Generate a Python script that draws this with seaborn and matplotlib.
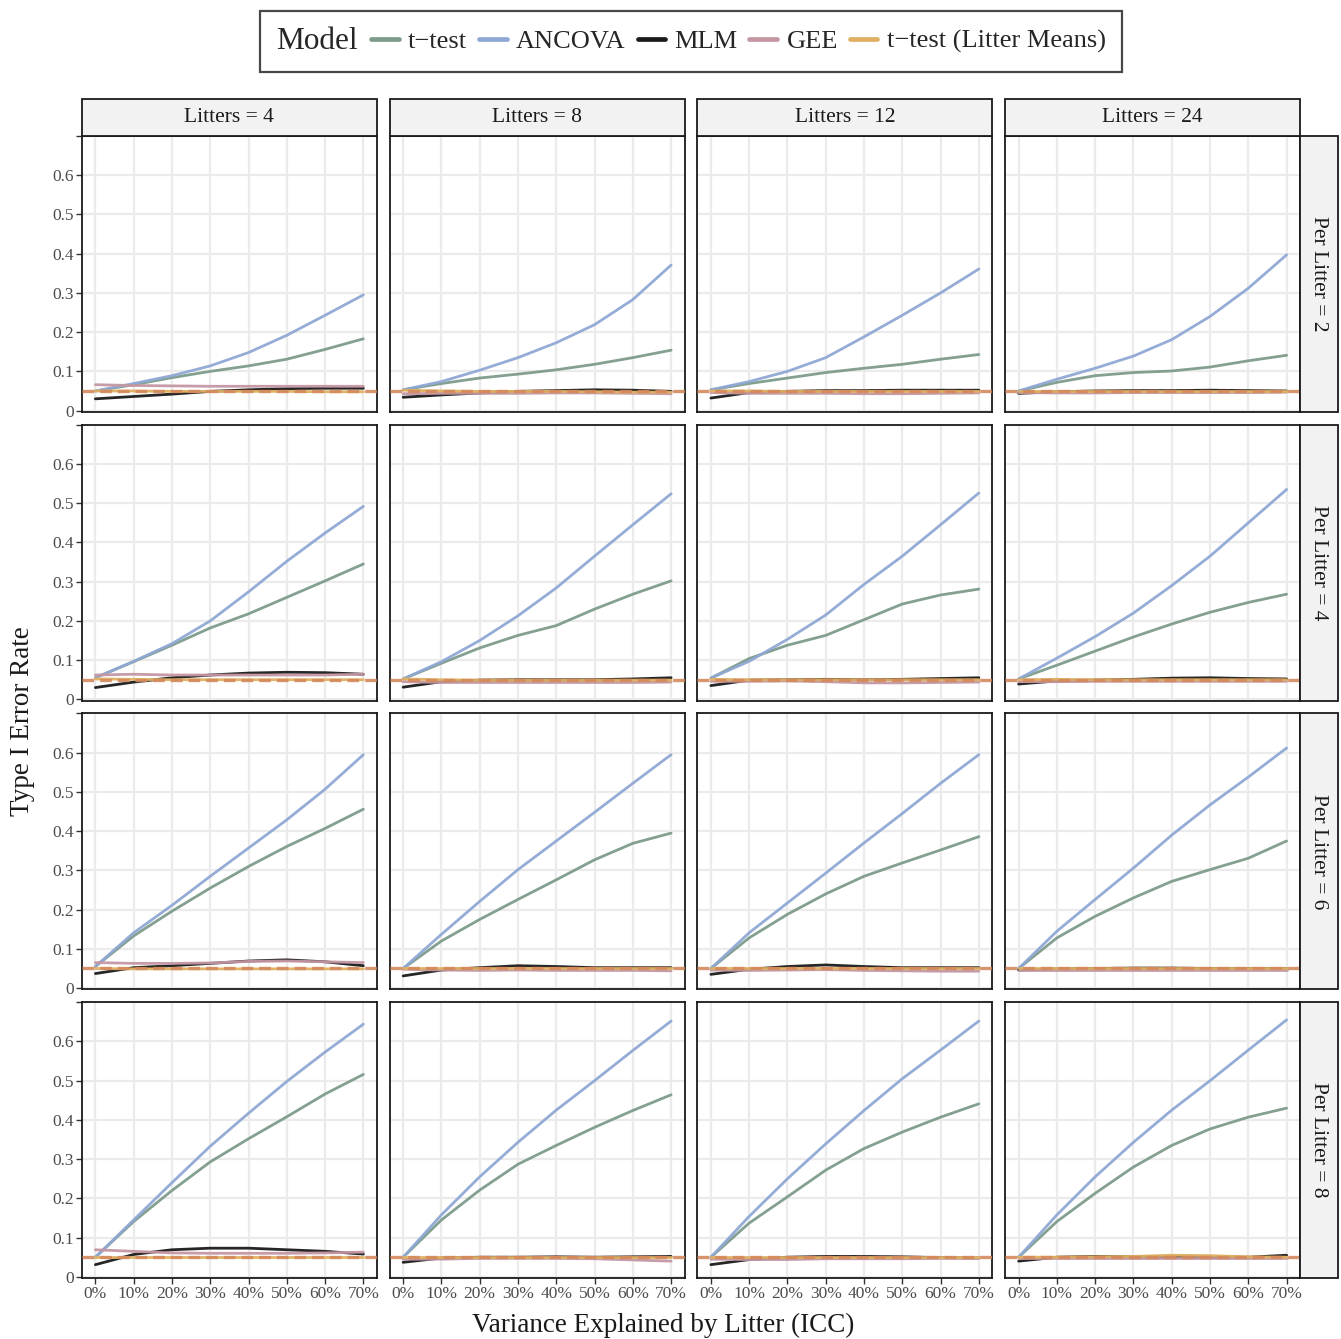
import numpy as np
import pandas as pd
import matplotlib
matplotlib.use("Agg")
import matplotlib.pyplot as plt
import seaborn as sns
from matplotlib.lines import Line2D
from matplotlib.patches import Rectangle
from matplotlib.offsetbox import HPacker

# ---------------- data ----------------
icc = [0.0, 0.1, 0.2, 0.3, 0.4, 0.5, 0.6, 0.7]
litters = [4, 8, 12, 24]
per_litter = [2, 4, 6, 8]
models = ["t\u2212test", "ANCOVA", "MLM", "GEE", "t\u2212test (Litter Means)"]
x_tick_labels = ["0%", "10%", "20%", "30%", "40%", "50%", "60%", "70%"]
y_ticks = [0.0, 0.1, 0.2, 0.3, 0.4, 0.5, 0.6, 0.7]
y_tick_labels = ["0", "0.1", "0.2", "0.3", "0.4", "0.5", "0.6", ""]

# Per Litter = 2 (columns: Litters = 4, 8, 12, 24)
ttest_p2 = [[0.050, 0.066, 0.084, 0.100, 0.114, 0.131, 0.156, 0.183],
            [0.053, 0.069, 0.083, 0.093, 0.104, 0.118, 0.135, 0.154],
            [0.053, 0.069, 0.083, 0.097, 0.108, 0.118, 0.131, 0.143],
            [0.050, 0.072, 0.089, 0.097, 0.101, 0.111, 0.127, 0.141]]
ancova_p2 = [[0.050, 0.069, 0.089, 0.114, 0.148, 0.192, 0.243, 0.295],
             [0.053, 0.074, 0.103, 0.135, 0.173, 0.219, 0.283, 0.371],
             [0.053, 0.074, 0.100, 0.135, 0.188, 0.243, 0.300, 0.361],
             [0.050, 0.080, 0.108, 0.139, 0.181, 0.240, 0.312, 0.397]]
mlm_p2 = [[0.030, 0.036, 0.042, 0.049, 0.053, 0.056, 0.057, 0.057],
          [0.034, 0.040, 0.045, 0.049, 0.051, 0.053, 0.052, 0.049],
          [0.032, 0.046, 0.049, 0.051, 0.051, 0.052, 0.052, 0.052],
          [0.044, 0.048, 0.050, 0.051, 0.051, 0.052, 0.051, 0.050]]
gee_p2 = [[0.066, 0.064, 0.063, 0.062, 0.062, 0.062, 0.062, 0.062],
          [0.043, 0.044, 0.044, 0.044, 0.045, 0.045, 0.044, 0.043],
          [0.046, 0.044, 0.044, 0.044, 0.043, 0.043, 0.044, 0.045],
          [0.046, 0.045, 0.045, 0.046, 0.046, 0.046, 0.046, 0.047]]
litter_p2 = [[0.050, 0.050, 0.049, 0.049, 0.049, 0.049, 0.048, 0.048],
             [0.052, 0.050, 0.049, 0.049, 0.049, 0.048, 0.047, 0.047],
             [0.050, 0.050, 0.049, 0.049, 0.049, 0.049, 0.049, 0.049],
             [0.050, 0.050, 0.050, 0.050, 0.050, 0.050, 0.050, 0.050]]

# Per Litter = 4
ttest_p4 = [[0.055, 0.096, 0.138, 0.182, 0.218, 0.260, 0.302, 0.345],
            [0.052, 0.092, 0.131, 0.163, 0.188, 0.230, 0.268, 0.302],
            [0.054, 0.104, 0.138, 0.163, 0.203, 0.243, 0.266, 0.281],
            [0.052, 0.087, 0.123, 0.159, 0.192, 0.222, 0.247, 0.268]]
ancova_p4 = [[0.055, 0.097, 0.142, 0.200, 0.274, 0.352, 0.424, 0.492],
             [0.052, 0.096, 0.150, 0.213, 0.284, 0.365, 0.445, 0.524],
             [0.054, 0.097, 0.153, 0.215, 0.293, 0.365, 0.445, 0.526],
             [0.052, 0.105, 0.160, 0.220, 0.290, 0.365, 0.450, 0.535]]
mlm_p4 = [[0.030, 0.044, 0.055, 0.062, 0.067, 0.069, 0.068, 0.064],
          [0.031, 0.045, 0.049, 0.050, 0.050, 0.050, 0.052, 0.055],
          [0.035, 0.049, 0.050, 0.051, 0.050, 0.051, 0.053, 0.055],
          [0.039, 0.047, 0.049, 0.051, 0.054, 0.055, 0.053, 0.052]]
gee_p4 = [[0.062, 0.064, 0.062, 0.062, 0.062, 0.062, 0.062, 0.064],
          [0.045, 0.043, 0.043, 0.043, 0.043, 0.043, 0.043, 0.044],
          [0.046, 0.046, 0.047, 0.045, 0.042, 0.042, 0.043, 0.044],
          [0.045, 0.045, 0.046, 0.046, 0.046, 0.046, 0.046, 0.046]]
litter_p4 = [[0.052, 0.051, 0.050, 0.050, 0.050, 0.050, 0.050, 0.050],
             [0.052, 0.050, 0.049, 0.049, 0.049, 0.049, 0.049, 0.049],
             [0.051, 0.050, 0.050, 0.050, 0.050, 0.050, 0.050, 0.050],
             [0.050, 0.051, 0.050, 0.050, 0.050, 0.050, 0.050, 0.050]]

# Per Litter = 6
ttest_p6 = [[0.055, 0.133, 0.196, 0.255, 0.310, 0.361, 0.407, 0.456],
            [0.050, 0.120, 0.175, 0.226, 0.276, 0.327, 0.369, 0.395],
            [0.050, 0.128, 0.188, 0.240, 0.285, 0.319, 0.352, 0.386],
            [0.050, 0.128, 0.183, 0.230, 0.272, 0.302, 0.331, 0.375]]
ancova_p6 = [[0.055, 0.141, 0.211, 0.285, 0.357, 0.429, 0.507, 0.595],
             [0.050, 0.137, 0.221, 0.302, 0.375, 0.448, 0.522, 0.595],
             [0.050, 0.141, 0.217, 0.293, 0.370, 0.445, 0.522, 0.595],
             [0.050, 0.145, 0.226, 0.306, 0.390, 0.467, 0.538, 0.612]]
mlm_p6 = [[0.037, 0.052, 0.057, 0.063, 0.069, 0.072, 0.067, 0.057],
          [0.031, 0.046, 0.052, 0.057, 0.055, 0.052, 0.052, 0.052],
          [0.035, 0.048, 0.055, 0.059, 0.055, 0.052, 0.052, 0.052],
          [0.046, 0.049, 0.050, 0.051, 0.051, 0.050, 0.050, 0.050]]
gee_p6 = [[0.065, 0.063, 0.063, 0.064, 0.068, 0.069, 0.067, 0.065],
          [0.048, 0.046, 0.045, 0.046, 0.045, 0.045, 0.045, 0.044],
          [0.046, 0.045, 0.046, 0.047, 0.045, 0.044, 0.043, 0.043],
          [0.046, 0.046, 0.046, 0.046, 0.046, 0.046, 0.046, 0.046]]
litter_p6 = [[0.050, 0.049, 0.049, 0.049, 0.049, 0.049, 0.049, 0.049],
             [0.050, 0.050, 0.050, 0.050, 0.050, 0.050, 0.050, 0.050],
             [0.050, 0.050, 0.050, 0.050, 0.050, 0.050, 0.050, 0.050],
             [0.050, 0.050, 0.050, 0.050, 0.050, 0.050, 0.050, 0.050]]

# Per Litter = 8
ttest_p8 = [[0.050, 0.141, 0.220, 0.293, 0.352, 0.408, 0.466, 0.516],
            [0.050, 0.145, 0.221, 0.287, 0.335, 0.381, 0.424, 0.464],
            [0.050, 0.137, 0.204, 0.272, 0.327, 0.369, 0.407, 0.441],
            [0.050, 0.141, 0.213, 0.280, 0.335, 0.377, 0.407, 0.430]]
ancova_p8 = [[0.050, 0.145, 0.240, 0.333, 0.417, 0.498, 0.573, 0.644],
             [0.050, 0.158, 0.255, 0.343, 0.425, 0.500, 0.577, 0.652],
             [0.050, 0.154, 0.250, 0.339, 0.424, 0.505, 0.578, 0.652],
             [0.050, 0.158, 0.255, 0.343, 0.425, 0.500, 0.578, 0.655]]
mlm_p8 = [[0.031, 0.057, 0.069, 0.073, 0.073, 0.069, 0.065, 0.058],
          [0.037, 0.048, 0.050, 0.050, 0.051, 0.050, 0.051, 0.052],
          [0.031, 0.044, 0.050, 0.052, 0.052, 0.051, 0.049, 0.048],
          [0.040, 0.050, 0.052, 0.051, 0.051, 0.050, 0.050, 0.055]]
gee_p8 = [[0.069, 0.065, 0.061, 0.060, 0.060, 0.060, 0.061, 0.063],
          [0.045, 0.045, 0.047, 0.047, 0.047, 0.046, 0.043, 0.040],
          [0.045, 0.044, 0.044, 0.046, 0.046, 0.046, 0.047, 0.047],
          [0.047, 0.047, 0.047, 0.047, 0.047, 0.047, 0.047, 0.047]]
litter_p8 = [[0.050, 0.050, 0.050, 0.050, 0.050, 0.050, 0.050, 0.050],
             [0.050, 0.050, 0.050, 0.050, 0.050, 0.050, 0.050, 0.050],
             [0.050, 0.050, 0.050, 0.050, 0.050, 0.050, 0.050, 0.050],
             [0.050, 0.050, 0.051, 0.052, 0.055, 0.054, 0.051, 0.050]]

alpha_level = 0.05

rows_data = [
    [ttest_p2, ancova_p2, mlm_p2, gee_p2, litter_p2],
    [ttest_p4, ancova_p4, mlm_p4, gee_p4, litter_p4],
    [ttest_p6, ancova_p6, mlm_p6, gee_p6, litter_p6],
    [ttest_p8, ancova_p8, mlm_p8, gee_p8, litter_p8],
]

# ---------------- style ----------------
palette = {
    models[0]: "#7D9B8A",
    models[1]: "#8FA8D4",
    models[2]: "#1A1A1A",
    models[3]: "#C497A3",
    models[4]: "#E0B060",
}
ref_color = "#D4895C"

sns.set_theme(style="white")
plt.rcParams["font.family"] = ["Liberation Serif", "DejaVu Serif"]
plt.rcParams["axes.unicode_minus"] = True

W, H = 1341, 1339
fig, axes = plt.subplots(4, 4, figsize=(W / 100, H / 100), dpi=100, sharex=True, sharey=True)
left, right, top, bottom = 82 / W, 1300 / W, 1 - 136 / H, 1 - 1278 / H
fig.subplots_adjust(left=left, right=right, top=top, bottom=bottom, wspace=0.044, hspace=0.047)

for r in range(4):
    for c in range(4):
        ax = axes[r, c]
        recs = []
        for m, series in zip(models, rows_data[r]):
            for xv, yv in zip(icc, series[c]):
                recs.append({"ICC": xv, "rate": yv, "Model": m})
        df = pd.DataFrame(recs)
        ax.set_facecolor("white")
        ax.grid(True, color="#EBEBEB", linewidth=1.6, zorder=0)
        ax.set_axisbelow(True)
        sns.lineplot(data=df, x="ICC", y="rate", hue="Model", hue_order=models,
                     palette=palette, linewidth=2.0, legend=False, ax=ax,
                     estimator=None, sort=True)
        for ln in ax.get_lines():
            ln.set_alpha(0.95)
            ln.set_solid_capstyle("round")
            ln.set_solid_joinstyle("round")
        ax.axhline(alpha_level, color=ref_color, linewidth=2.4,
                   linestyle=(0, (3.5, 1.8)), zorder=5, alpha=0.9)
        ax.set_xlim(-0.035, 0.735)
        ax.set_ylim(-0.003, 0.70)
        ax.set_xticks(icc)
        ax.set_xticklabels(x_tick_labels)
        ax.set_yticks(y_ticks)
        ax.set_yticklabels(y_tick_labels)
        ax.set_xlabel("")
        ax.set_ylabel("")
        for s in ax.spines.values():
            s.set_visible(True)
            s.set_color("#1A1A1A")
            s.set_linewidth(1.3)
        ax.tick_params(axis="both", which="major", direction="out", length=4,
                       width=1.0, color="#333333", labelsize=12.5,
                       labelcolor="#4D4D4D", pad=2,
                       left=(c == 0), bottom=(r == 3))
        # strips
        if r == 0:
            h = 37 / 276
            ax.add_patch(Rectangle((0, 1), 1, h, transform=ax.transAxes,
                                   facecolor="#F2F2F3", edgecolor="#1A1A1A",
                                   linewidth=1.3, clip_on=False, zorder=10))
            ax.text(0.5, 1 + h / 2, f"Litters = {litters[c]}", transform=ax.transAxes,
                    ha="center", va="center", fontsize=15.5, color="#1A1A1A", zorder=11)
        if c == 3:
            w = 38 / 295
            ax.add_patch(Rectangle((1, 0), w, 1, transform=ax.transAxes,
                                   facecolor="#F2F2F3", edgecolor="#1A1A1A",
                                   linewidth=1.3, clip_on=False, zorder=10))
            ax.text(1 + w / 2, 0.5, f"Per Litter = {per_litter[r]}", transform=ax.transAxes,
                    ha="center", va="center", rotation=-90, fontsize=15.5,
                    color="#1A1A1A", zorder=11)

fig.text(663 / W, 1 - 1325 / H, "Variance Explained by Litter (ICC)",
         ha="center", va="center", fontsize=19.5, color="#1A1A1A")
fig.text(23 / W, 1 - 721 / H, "Type I Error Rate", ha="center", va="center",
         rotation=90, fontsize=19.5, color="#1A1A1A")

# legend
handles = [Line2D([0], [0], color=palette[m], linewidth=3.4) for m in models]
leg = fig.legend(handles, models, loc="center", bbox_to_anchor=(691 / W, 1 - 41.5 / H),
                 ncol=5, title="Model", title_fontsize=22.5, fontsize=19,
                 frameon=True, fancybox=False, edgecolor="#1A1A1A",
                 handlelength=1.05, handletextpad=0.35, columnspacing=0.45,
                 borderpad=0.62)
leg.get_frame().set_linewidth(1.6)
try:
    fs = leg._fontsize
    newbox = HPacker(pad=leg.borderpad * fs, sep=0.5 * fs, align="center",
                     children=[leg._legend_title_box, leg._legend_handle_box])
    newbox.set_figure(fig)
    newbox.axes = leg.axes
    leg._legend_box = newbox
    leg._set_loc(leg._loc)
except Exception:
    pass

fig.savefig("out.png", dpi=100, facecolor="white")
